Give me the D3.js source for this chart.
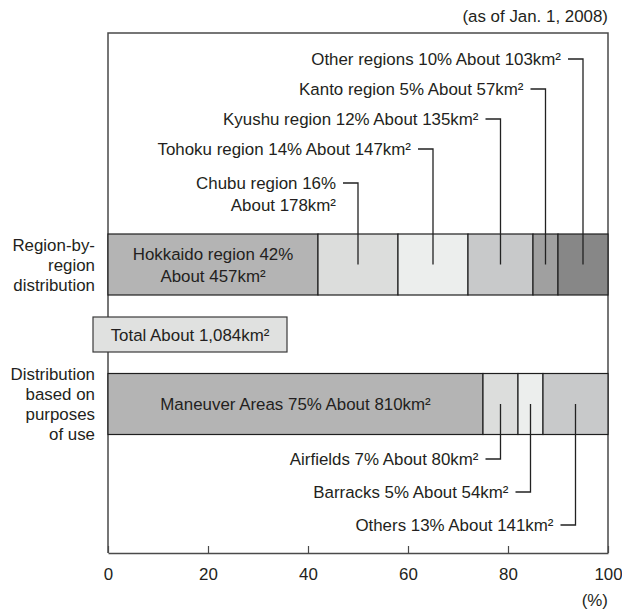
<!DOCTYPE html>
<html><head><meta charset="utf-8">
<script src="https://cdn.jsdelivr.net/npm/d3@7"></script>
<style>
html,body{margin:0;padding:0;background:#fff;}
svg{display:block;}
text{font-family:"Liberation Sans",Arial,sans-serif;fill:#231f20;}
</style></head>
<body><div id="chart"></div>
<script>
// ---- data ----
const rows = ["Region-by-region distribution", "Distribution based on purposes of use"];
const rowLabelLines = [["Region-by-", "region", "distribution"], ["Distribution", "based on", "purposes", "of use"]];

const regionNames = ["Hokkaido region", "Chubu region", "Tohoku region", "Kyushu region", "Kanto region", "Other regions"];
const regionPct   = [42, 16, 14, 12, 5, 10];          // as labelled
const regionArea  = [457, 178, 147, 135, 57, 103];    // km²
const regionShare = [42, 16, 14, 13, 5, 10];          // bar widths as drawn (%)
const regionColors = ["#b4b4b4", "#dcdddc", "#eceeed", "#c8c9ca", "#a0a0a0", "#878787"];

const purposeNames = ["Maneuver Areas", "Airfields", "Barracks", "Others"];
const purposePct   = [75, 7, 5, 13];
const purposeArea  = [810, 80, 54, 141];
const purposeShare = [75, 7, 5, 13];
const purposeColors = ["#b4b4b4", "#dcdddc", "#eceeed", "#c8c9ca"];

const totalLabel = "Total About 1,084km²";
const dateNote = "(as of Jan. 1, 2008)";
const unitLabel = "(%)";
const xTicks = [0, 20, 40, 60, 80, 100];

// ---- layout ----
const W = 622, H = 609;
const svg = d3.select("#chart").append("svg").attr("width", W).attr("height", H);
const FS = 16.9;

const x = d3.scaleLinear().domain([0, 100]).range([108, 608]);
const y = d3.scalePoint().domain(rows).range([264.5, 404]);
const barH = 61;
const frameTop = 33, frameBottom = 553;

function stack(shares) {
  let c = 0;
  return shares.map(v => { const s = c; c += v; return [s, c]; });
}

// frame
svg.append("path")
  .attr("d", `M${x(0)},${frameBottom}V${frameTop}H${x(100)}V${frameBottom}`)
  .attr("fill", "none").attr("stroke", "#4a4a4a").attr("stroke-width", 1.5);

// axis
const axis = d3.axisBottom(x).tickValues(xTicks).tickSizeInner(-7).tickSizeOuter(0).tickPadding(15);
const ag = svg.append("g").attr("transform", `translate(0,${frameBottom})`).call(axis);
ag.select(".domain").attr("stroke", "#4a4a4a").attr("stroke-width", 1.5);
ag.selectAll(".tick line").attr("stroke", "#4a4a4a").attr("stroke-width", 1.2);
ag.selectAll(".tick text").attr("font-size", FS).attr("font-family", "Liberation Sans, Arial, sans-serif").attr("fill", "#231f20");

svg.append("text").attr("x", x(100)).attr("y", 606).attr("text-anchor", "end")
  .attr("font-size", FS).text(unitLabel);
svg.append("text").attr("x", x(100)).attr("y", 22).attr("text-anchor", "end")
  .attr("font-size", FS).text(dateNote);

// bars
function drawBar(rowKey, shares, colors) {
  const st = stack(shares);
  const cy = y(rowKey);
  svg.append("g").selectAll("rect").data(st).join("rect")
    .attr("x", d => x(d[0])).attr("width", d => x(d[1]) - x(d[0]))
    .attr("y", cy - barH / 2).attr("height", barH)
    .attr("fill", (d, i) => colors[i])
    .attr("stroke", "#1e1e1e").attr("stroke-width", 1.2);
  return st;
}
const rSt = drawBar(rows[0], regionShare, regionColors);
const pSt = drawBar(rows[1], purposeShare, purposeColors);

// row labels
rowLabelLines.forEach((lines, r) => {
  const cy = y(rows[r]);
  const lh = 20;
  const startY = r === 0 ? cy - lh : cy - 30;
  lines.forEach((t, k) => {
    svg.append("text").attr("x", 95).attr("y", startY + k * lh).attr("dy", "0.36em")
      .attr("text-anchor", "end").attr("font-size", FS).text(t);
  });
});

// inner labels
const hk = svg.append("text").attr("text-anchor", "middle").attr("font-size", FS);
const hcx = (x(rSt[0][0]) + x(rSt[0][1])) / 2;
hk.append("tspan").attr("x", hcx).attr("y", y(rows[0]) - 11).attr("dy", "0.36em")
  .text(`${regionNames[0]} ${regionPct[0]}%`);
hk.append("tspan").attr("x", hcx).attr("y", y(rows[0]) + 11).attr("dy", "0.36em")
  .text(`About ${regionArea[0]}km²`);

svg.append("text").attr("text-anchor", "middle").attr("font-size", FS)
  .attr("x", (x(pSt[0][0]) + x(pSt[0][1])) / 2).attr("y", y(rows[1])).attr("dy", "0.36em")
  .text(`${purposeNames[0]} ${purposePct[0]}% About ${purposeArea[0]}km²`);

// leader labels
const lead = svg.append("g");
function leader(cx, ly, barY, lines) {
  lead.append("path").attr("d", `M${cx - 15},${ly}H${cx}V${barY}`)
    .attr("fill", "none").attr("stroke", "#222").attr("stroke-width", 1.3);
  lines.forEach((t, k) => {
    lead.append("text").attr("x", cx - 22).attr("y", ly + k * 22).attr("dy", "0.36em")
      .attr("text-anchor", "end").attr("font-size", FS).text(t);
  });
}
for (let i = 1; i < regionNames.length; i++) {
  const cx = (x(rSt[i][0]) + x(rSt[i][1])) / 2;
  const rowIdx = regionNames.length - 1 - i;
  const ly = 59 + rowIdx * 30 + (i === 1 ? 4 : 0);
  const lines = i === 1
    ? [`${regionNames[i]} ${regionPct[i]}%`, `About ${regionArea[i]}km²`]
    : [`${regionNames[i]} ${regionPct[i]}% About ${regionArea[i]}km²`];
  leader(cx, ly, y(rows[0]), lines);
}
for (let i = 1; i < purposeNames.length; i++) {
  const cx = (x(pSt[i][0]) + x(pSt[i][1])) / 2;
  const ly = 459 + (i - 1) * 33;
  leader(cx, ly, y(rows[1]), [`${purposeNames[i]} ${purposePct[i]}% About ${purposeArea[i]}km²`]);
}

// total box
const tb = svg.append("g");
tb.append("rect").attr("x", 93).attr("y", 317).attr("width", 194).attr("height", 35)
  .attr("fill", "#e0e1e0").attr("stroke", "#3a3a3a").attr("stroke-width", 1.2);
tb.append("text").attr("x", 190).attr("y", 334.5).attr("dy", "0.36em")
  .attr("text-anchor", "middle").attr("font-size", FS).text(totalLabel);
</script>
</body></html>
